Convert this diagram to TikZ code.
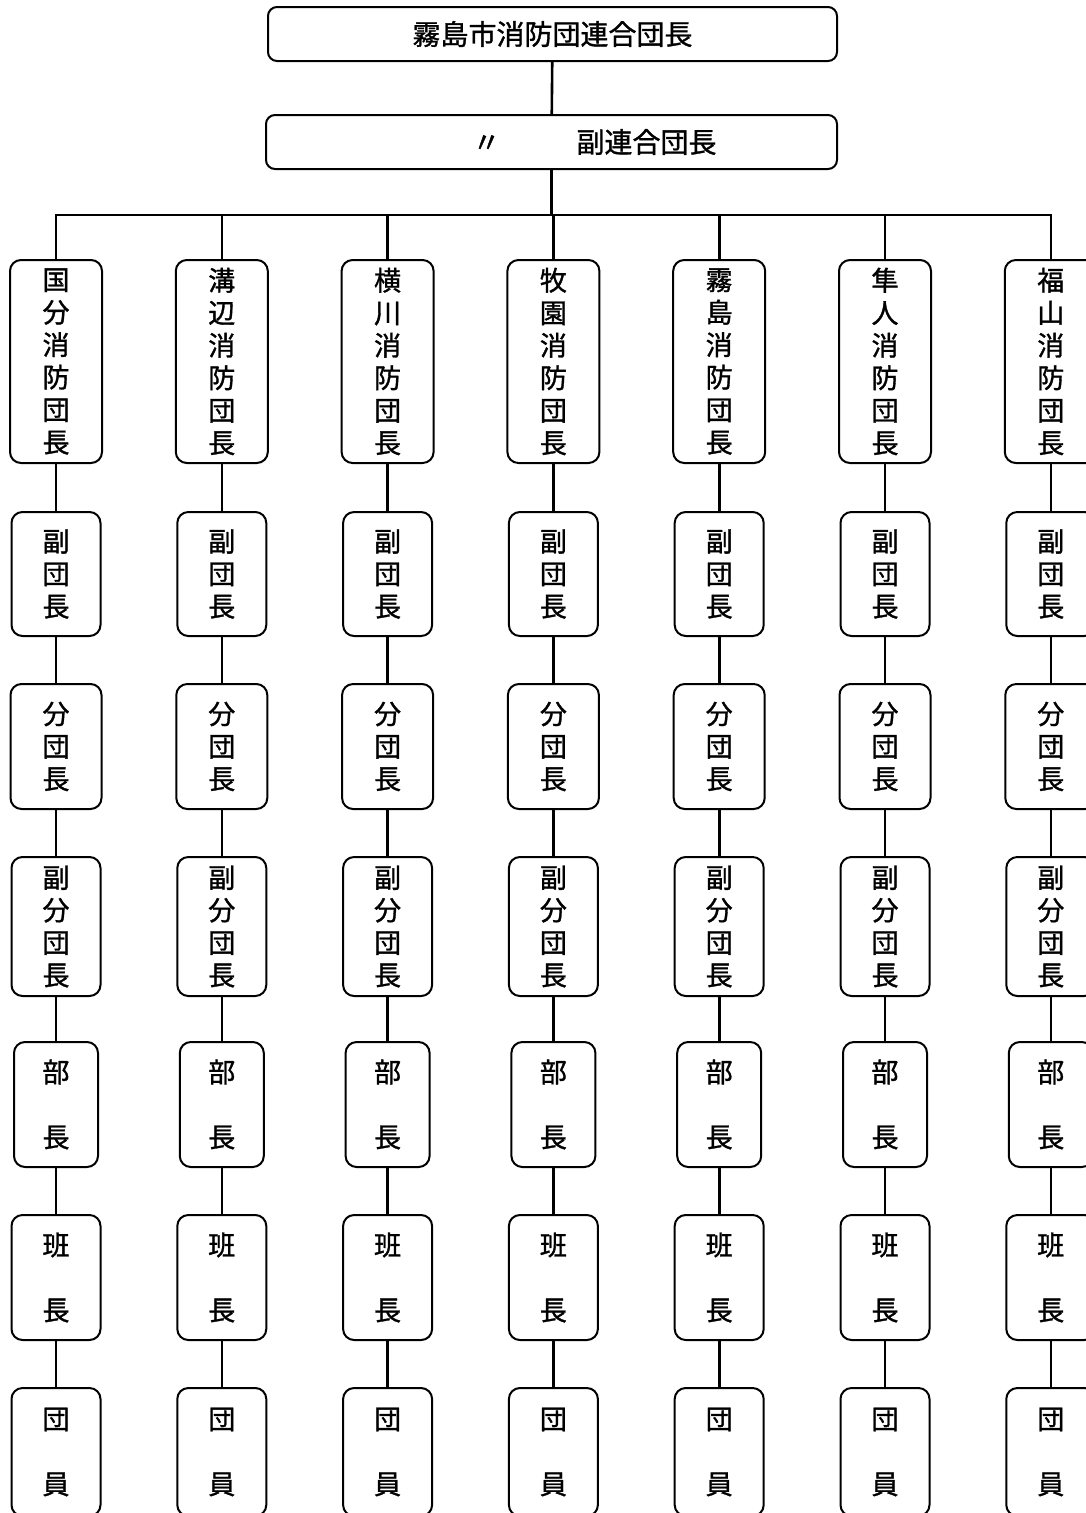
\documentclass[tikz,border=0pt]{standalone}
\usepackage{fontspec}
\setmainfont{Noto Sans CJK JP}[FakeBold=1.2]
\usetikzlibrary{positioning}
\tikzset{
	chief/.style={draw, line width=2pt, rounded corners=9pt, inner sep=0pt,
		font=\fontsize{28}{32}\selectfont},
	rank/.style={draw, line width=2pt, rounded corners=11pt, inner sep=0pt,
		align=center, font=\fontsize{27}{32.5}\selectfont},
	link/.style={black, line width=2.6pt},
}

\begin{document}
\begin{tikzpicture}[x=1pt, y=-1pt]
	\useasboundingbox (0,0) rectangle (1086,1513);
	
	% head of the chain
	\node[chief, minimum width=569pt, minimum height=54pt] (head) at (552.5,34) {霧島市消防団連合団長};
	\node[chief, minimum width=571pt, minimum height=54pt] (vice) at (551.5,142)
	{\hspace*{86pt}〃\hspace{76pt}副連合団長};
	\draw[link] (head) -- (vice);
	\coordinate (bus) at (0,215);
	
	% one column per local corps
	\foreach \c/\a/\b in {1/国/分,2/溝/辺,3/横/川,4/牧/園,5/霧/島,6/隼/人,7/福/山}{
		\pgfmathsetmacro{\xc}{56+165.8*(\c-1)}
		\node[rank, minimum width=92pt, minimum height=203pt] (r1-\c) at (\xc,361.5)
		{\a\\\b\\消\\防\\団\\長};
		\draw[link] (vice.south) -- (vice.south |- bus) -| (r1-\c.north);
		\foreach \r/\yc/\h/\w/\txt [count=\p from 1] in {
			2/574/124/89/{副\\団\\長},
			3/746.5/125/91/{分\\団\\長},
			4/926.5/139/89/{副\\分\\団\\長},
			5/1104.5/125/84/{部\\[32.5pt]長},
			6/1277.5/125/89/{班\\[32.5pt]長},
			7/1452/128/89/{団\\[32.5pt]員}}{
			\node[rank, minimum width=\w pt, minimum height=\h pt] (r\r-\c) at (\xc,\yc) {\txt};
			\draw[link] (r\p-\c) -- (r\r-\c);
		}
	}
\end{tikzpicture}
\end{document}
